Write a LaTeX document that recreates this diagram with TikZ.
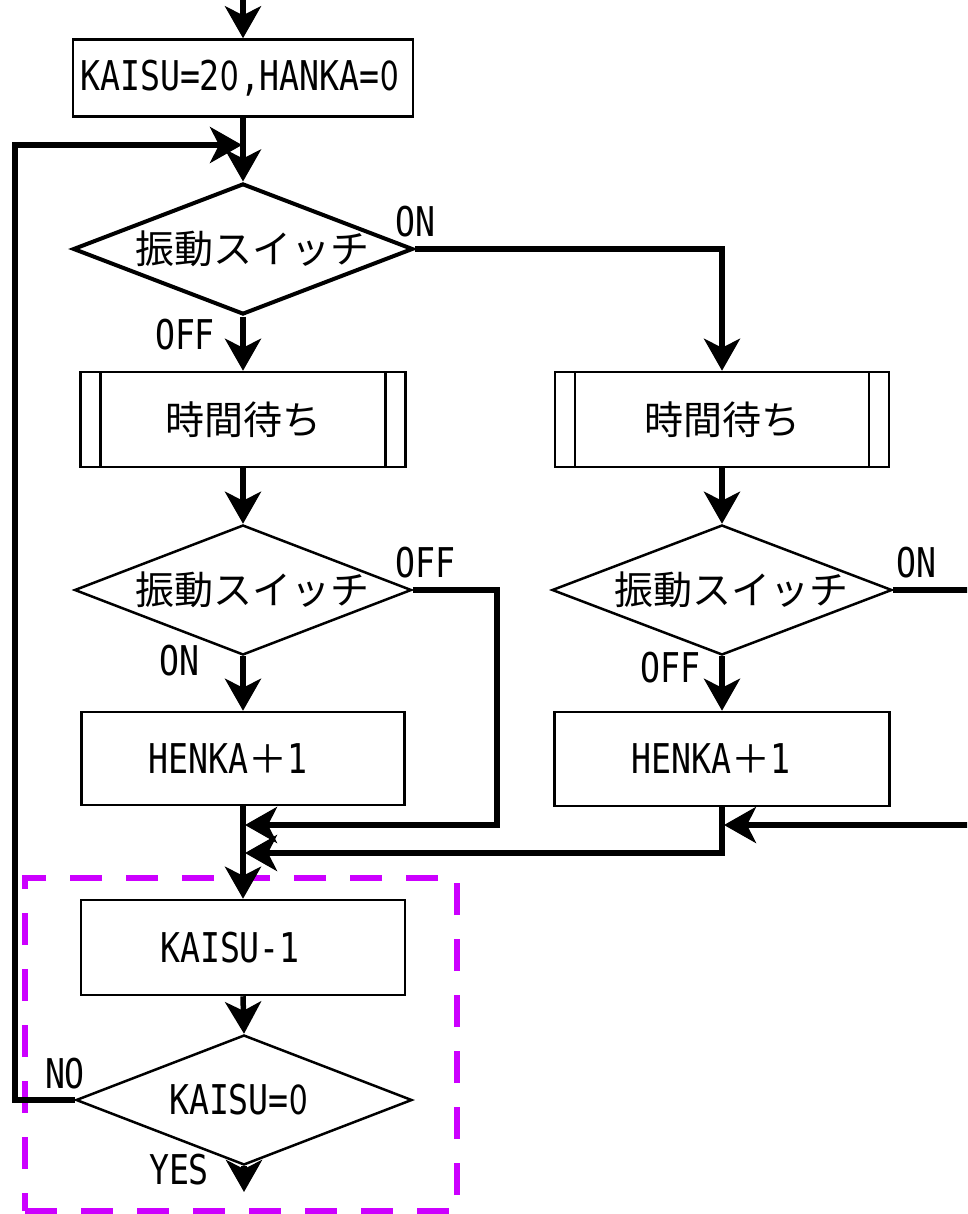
\documentclass[tikz,border=0pt]{standalone}
\usepackage{fontspec}
\newfontfamily\jp{Noto Sans CJK JP}
\newfontfamily\lat{DejaVu Sans Mono}[FakeStretch=0.81]
\newfontfamily\latz{Noto Sans CJK JP}[FakeStretch=0.81]
\usetikzlibrary{arrows.meta,shapes.geometric}
\definecolor{hlpurple}{RGB}{204,0,255}
\newcommand{\jtxt}[1]{{\jp\fontsize{39}{39}\selectfont #1}}
\newcommand{\ltxt}[1]{{\lat\fontsize{41}{41}\selectfont #1}}
\newcommand{\zr}{\makebox[20pt]{\latz\fontsize{41}{41}\selectfont 0}}
\begin{document}
\begin{tikzpicture}[x=1pt,y=-1pt,
  box/.style={draw, rectangle, line width=2.5pt, inner sep=0pt},
  subbox/.style={box, path picture={
      \draw[line width=2.5pt] ([xshift=20pt]path picture bounding box.north west) -- ([xshift=20pt]path picture bounding box.south west);
      \draw[line width=2.5pt] ([xshift=-20pt]path picture bounding box.north east) -- ([xshift=-20pt]path picture bounding box.south east);}},
  decision/.style={draw, diamond, inner sep=0pt, line width=2.5pt},
  conn/.style={line width=5.5pt, -{Stealth[length=32pt,width=36pt,inset=9pt]}},
  wire/.style={line width=5.5pt},
  lbl/.style={inner sep=0pt},
  hl/.style={draw=hlpurple, line width=6pt, dash pattern=on 32pt off 24pt, rectangle, inner sep=0pt}
]
\useasboundingbox (0,0) rectangle (967,1214);
\clip (0,0) rectangle (967,1214);

% nodes
\node[box, minimum width=340pt, minimum height=77pt] (init) at (243,78) {\makebox[0pt]{\ltxt{KAISU=2}\zr\ltxt{,HANKA=}\zr\hspace{6pt}}};
\node[decision, line width=4pt, minimum width=340pt, minimum height=131pt] (d1) at (243,249) {\makebox[0pt]{\hspace{18pt}\jtxt{振動スイッチ}}};
\node[subbox, minimum width=325pt, minimum height=95pt] (w1) at (243,419.5) {\makebox[0pt]{\jtxt{時間待ち}}};
\node[subbox, minimum width=334pt, minimum height=95pt] (w2) at (722,419.5) {\makebox[0pt]{\jtxt{時間待ち}}};
\node[decision, minimum width=337pt, minimum height=130pt] (d2l) at (243,590) {\makebox[0pt]{\hspace{18pt}\jtxt{振動スイッチ}}};
\node[decision, minimum width=340pt, minimum height=130pt] (d2r) at (722,590) {\makebox[0pt]{\hspace{18pt}\jtxt{振動スイッチ}}};
\node[box, minimum width=323pt, minimum height=93pt] (h1) at (243,758.5) {\makebox[0pt]{\ltxt{HENKA}\jtxt{＋}\ltxt{1}\hspace{30pt}}};
\node[box, minimum width=335pt, minimum height=94pt] (h2) at (722,759) {\makebox[0pt]{\ltxt{HENKA}\jtxt{＋}\ltxt{1}\hspace{22pt}}};
\node[box, minimum width=324pt, minimum height=95pt] (k1) at (243,947.5) {\makebox[0pt]{\ltxt{KAISU-1}\hspace{26pt}}};
\node[decision, minimum width=336pt, minimum height=130pt] (d3) at (244,1100) {\makebox[0pt]{\ltxt{KAISU=}\zr\hspace{10pt}}};
\node[hl, minimum width=432pt, minimum height=333pt] (frame) at (241,1044.5) {};

% labels
\node[lbl] (lon1) at (415,222) {\ltxt{ON}};
\node[lbl] (loff1) at (185,335) {\ltxt{OFF}};
\node[lbl] (loff2) at (425,563) {\ltxt{OFF}};
\node[lbl] (lon2) at (179,661) {\ltxt{ON}};
\node[lbl] (lon3) at (916,563) {\ltxt{ON}};
\node[lbl] (loff3) at (670,668) {\ltxt{OFF}};
\node[lbl] (lno) at (65,1074) {\ltxt{NO}};
\node[lbl] (lyes) at (179,1170) {\ltxt{YES}};

% coordinates
\coordinate (top) at (243,-10);
\coordinate (loopin) at (242,145);
\coordinate (lcb) at (15,1100);
\coordinate (lct) at (15,145);
\coordinate (r1) at (722,249);
\coordinate (ra) at (497,590);
\coordinate (rb) at (497,825);
\coordinate (m1) at (245,825);
\coordinate (offr) at (975,590);
\coordinate (inr) at (975,825);
\coordinate (rt) at (724,825);
\coordinate (rc) at (722,853);
\coordinate (m2) at (245,853);
\coordinate (bot) at (244,1192);

% connectors
\draw[conn] (top) -- (init.north);
\draw[conn] (init.south) -- (d1.north);
\draw[conn] (d3.west) -- (lcb) -- (lct) -- (loopin);
\draw[conn] (d1.east) -- (r1) -- (w2.north);
\draw[conn] (d1.south) -- (w1.north);
\draw[conn] (w1.south) -- (d2l.north);
\draw[conn] (w2.south) -- (d2r.north);
\draw[conn] (d2l.east) -- (ra) -- (rb) -- (m1);
\draw[conn] (d2l.south) -- (h1.north);
\draw[conn] (d2r.south) -- (h2.north);
\draw[wire] (d2r.east) -- (offr);
\draw[conn] (inr) -- (rt);
\draw[conn] (h2.south) -- (rc) -- (m2);
\draw[conn] (h1.south) -- (k1.north);
\draw[conn] (k1.south) -- (d3.north);
\draw[conn] (d3.south) -- (bot);
\end{tikzpicture}
\end{document}
